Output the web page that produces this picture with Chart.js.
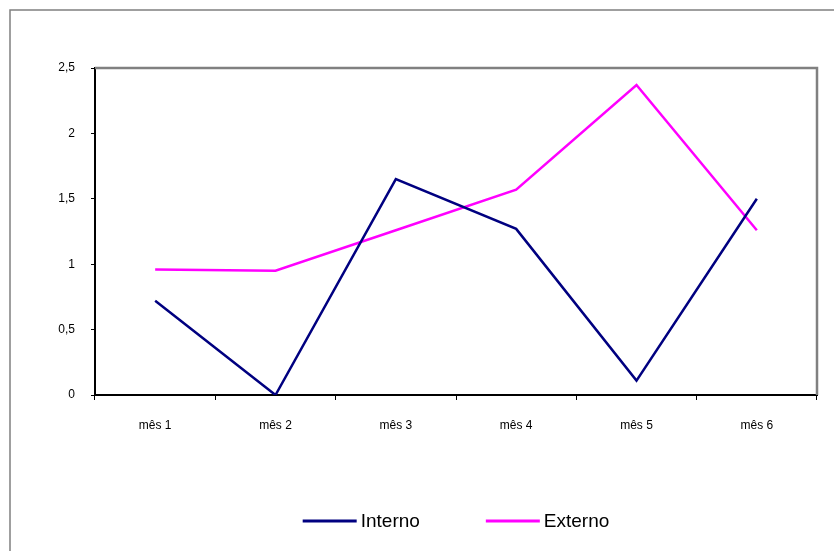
<!DOCTYPE html>
<html>
<head>
<meta charset="utf-8">
<script src="https://cdn.jsdelivr.net/npm/chart.js@4.4.1/dist/chart.umd.min.js"></script>
<style>
  html, body { margin: 0; padding: 0; background: #fff; }
  canvas { display: block; }
</style>
</head>
<body>
<canvas id="c" width="834" height="551"></canvas>
<script>
// Monthly values for the two series
const categories = ['mês 1', 'mês 2', 'mês 3', 'mês 4', 'mês 5', 'mês 6'];
const interno = [0.72, 0, 1.65, 1.27, 0.11, 1.5];
const externo = [0.96, 0.95, 1.26, 1.57, 2.37, 1.26];
const seriesNames = ['Interno', 'Externo'];
const yTicks = [0, 0.5, 1, 1.5, 2, 2.5];

const FONT = "'Liberation Sans', Arial, sans-serif";

// Outer frame, grey top/right plot border and the bottom legend
const framePlugin = {
  id: 'frame',
  beforeDraw(chart) {
    const ctx = chart.ctx;
    ctx.save();
    ctx.fillStyle = '#ffffff';
    ctx.fillRect(0, 0, chart.width, chart.height);
    ctx.strokeStyle = '#808080';
    ctx.lineWidth = 1.5;
    ctx.strokeRect(10, 10, chart.width + 20, chart.height + 20);
    ctx.restore();
  },
  afterDatasetsDraw(chart) {
    const ctx = chart.ctx;
    const a = chart.chartArea;
    ctx.save();
    ctx.strokeStyle = '#808080';
    ctx.lineWidth = 2.5;
    ctx.beginPath();
    ctx.moveTo(a.left, a.top);
    ctx.lineTo(a.right, a.top);
    ctx.lineTo(a.right, a.bottom);
    ctx.stroke();
    ctx.restore();
  },
  afterDraw(chart) {
    const ctx = chart.ctx;
    const a = chart.chartArea;
    ctx.save();
    ctx.font = '19px ' + FONT;
    ctx.textBaseline = 'middle';
    const lineLen = 54, textGap = 4, itemGap = 66;
    const items = chart.data.datasets.map(ds => ({
      label: ds.label, color: ds.borderColor,
      w: lineLen + textGap + ctx.measureText(ds.label).width
    }));
    const total = items.reduce((s, it) => s + it.w, 0) + itemGap * (items.length - 1);
    let x = (a.left + a.right) / 2 - total / 2;
    const y = 521;
    items.forEach(it => {
      ctx.strokeStyle = it.color;
      ctx.lineWidth = 3;
      ctx.beginPath();
      ctx.moveTo(x, y);
      ctx.lineTo(x + lineLen, y);
      ctx.stroke();
      ctx.fillStyle = '#000';
      ctx.fillText(it.label, x + lineLen + textGap, y + 1);
      x += it.w + itemGap;
    });
    ctx.restore();
  }
};

new Chart(document.getElementById('c'), {
  type: 'line',
  data: {
    labels: categories,
    datasets: [
      { label: seriesNames[0], data: interno, borderColor: '#000080', backgroundColor: '#000080',
        borderWidth: 2.5, pointRadius: 0, tension: 0, fill: false },
      { label: seriesNames[1], data: externo, borderColor: '#FF00FF', backgroundColor: '#FF00FF',
        borderWidth: 2.5, pointRadius: 0, tension: 0, fill: false }
    ]
  },
  options: {
    responsive: false,
    animation: false,
    devicePixelRatio: 1,
    layout: { padding: { left: 0, top: 68, right: 17, bottom: 0 } },
    plugins: { legend: { display: false }, tooltip: { enabled: false } },
    scales: {
      x: {
        type: 'category',
        offset: true,
        afterFit(scale) { scale.height = 156; },
        border: { display: true, color: '#000', width: 2 },
        grid: { display: true, offset: true, drawOnChartArea: false, drawTicks: true,
                tickLength: 5, color: '#000', lineWidth: 1 },
        ticks: { color: '#000', font: { family: FONT, size: 12 }, padding: 18, maxRotation: 0 }
      },
      y: {
        min: 0, max: 2.5,
        afterFit(scale) { scale.width = 95; },
        afterBuildTicks(scale) { scale.ticks = yTicks.map(v => ({ value: v })); },
        border: { display: true, color: '#000', width: 2 },
        grid: { display: true, drawOnChartArea: false, drawTicks: true,
                tickLength: 4, color: '#000', lineWidth: 1 },
        ticks: {
          color: '#000', font: { family: FONT, size: 12 }, padding: 16,
          callback: v => String(v).replace('.', ',')
        }
      }
    }
  },
  plugins: [framePlugin]
});
</script>
</body>
</html>
